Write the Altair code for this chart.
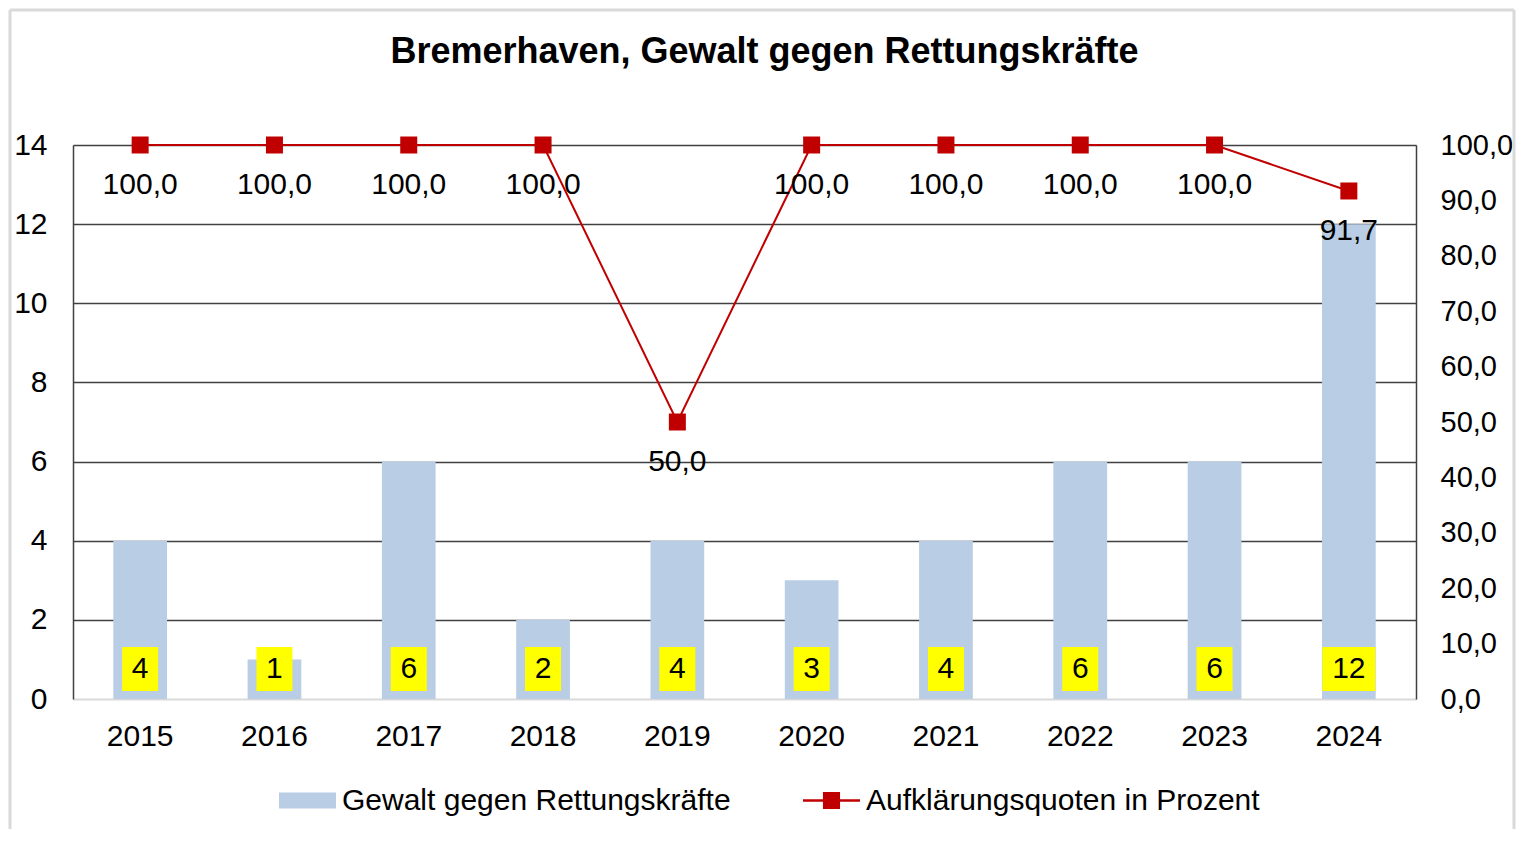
import altair as alt
import pandas as pd

years = ["2015", "2016", "2017", "2018", "2019", "2020", "2021", "2022", "2023", "2024"]
counts = [4, 1, 6, 2, 4, 3, 4, 6, 6, 12]
quotes = [100.0, 100.0, 100.0, 100.0, 50.0, 100.0, 100.0, 100.0, 100.0, 91.7]
left_ticks = [0, 2, 4, 6, 8, 10, 12, 14]
right_ticks = [0, 10, 20, 30, 40, 50, 60, 70, 80, 90, 100]
title_text = "Bremerhaven, Gewalt gegen Rettungskräfte"
bar_series = "Gewalt gegen Rettungskräfte"
line_series = "Aufklärungsquoten in Prozent"

df = pd.DataFrame({
    "year": years,
    "count": counts,
    "quote": quotes,
})
df["count_lbl"] = df["count"].astype(str)
df["quote_lbl"] = df["quote"].map(lambda v: f"{v:.1f}".replace(".", ","))
df["s_bar"] = bar_series
df["s_line"] = line_series

W, H = 1343, 554
FONT = "Liberation Sans"
RED = "#C00000"
BLUE = "#B9CDE5"
DARK = "#404040"
BORDER = "#D9D9D9"

bar_sym = "M-1,-0.28L1,-0.28L1,0.28L-1,0.28Z"
line_sym = "M-1,-0.04L1,-0.04L1,0.04L-1,0.04Z M-0.3,-0.3L0.3,-0.3L0.3,0.3L-0.3,0.3Z"

x_enc = alt.X(
    "year:O",
    title=None,
    scale=alt.Scale(paddingInner=0.6, paddingOuter=0.3),
    axis=alt.Axis(labelAngle=0, labelFontSize=30, labelFont=FONT, labelColor="black",
                  ticks=False, domainColor=BORDER, domainWidth=2, labelPadding=22, grid=False),
)

base = alt.Chart(df).encode(x=x_enc)

bars = base.mark_bar().encode(
    y=alt.Y("count:Q", title=None, scale=alt.Scale(domain=[0, 14], nice=False),
            axis=alt.Axis(values=left_ticks, labelFontSize=30, labelFont=FONT, labelColor="black",
                          ticks=False, domainColor=DARK, domainWidth=1.5, labelPadding=26,
                          grid=True, gridWidth=1.5,
                          gridColor=alt.condition("datum.value == 0", alt.value("transparent"), alt.value(DARK)))),
    color=alt.Color("s_bar:N",
                    scale=alt.Scale(domain=[bar_series], range=[BLUE]),
                    legend=alt.Legend(orient="none", legendX=206, legendY=627, title=None,
                                      symbolType=bar_sym, symbolSize=3249, symbolStrokeWidth=0,
                                      labelFontSize=30, labelFont=FONT, labelColor="black",
                                      labelOffset=6, labelLimit=0)),
)

boxes1 = base.mark_bar(color="#FFFF00", width=36).encode(
    y=alt.value(H - 8), y2=alt.value(H - 52)
).transform_filter("length(datum.count_lbl) == 1")
boxes2 = base.mark_bar(color="#FFFF00", width=53).encode(
    y=alt.value(H - 8), y2=alt.value(H - 52)
).transform_filter("length(datum.count_lbl) == 2")

box_text = base.mark_text(fontSize=30, font=FONT, color="black", baseline="middle").encode(
    y=alt.value(H - 30), text="count_lbl:N"
)

# outer frame: left, top and right edges (bottom lies outside the window)
one = alt.Chart(df).transform_filter("datum.year == '2015'")
frame_left = one.mark_rule(color=BORDER, strokeWidth=3).encode(
    x=alt.value(-63), y=alt.value(-135), y2=alt.value(H + 130))
frame_right = one.mark_rule(color=BORDER, strokeWidth=3).encode(
    x=alt.value(W + 98), y=alt.value(-135), y2=alt.value(H + 130))
frame_top = one.mark_rule(color=BORDER, strokeWidth=3).encode(
    x=alt.value(-63), x2=alt.value(W + 98), y=alt.value(-135))

y_right = alt.Y("quote:Q", title=None, scale=alt.Scale(domain=[0, 100], nice=False),
                axis=alt.Axis(orient="right", values=right_ticks, labelFontSize=29, labelFont=FONT,
                              labelColor="black", ticks=False, domainColor=DARK, domainWidth=1.5,
                              labelPadding=24, grid=False,
                              labelExpr="replace(format(datum.value, '.1f'), '.', ',')"))

line = base.mark_line(color=RED, strokeWidth=2).encode(y=y_right)
points = base.mark_point(shape="square", filled=True, size=289, opacity=1).encode(
    y=y_right,
    color=alt.Color("s_line:N",
                    scale=alt.Scale(domain=[line_series], range=[RED]),
                    legend=alt.Legend(orient="none", legendX=730, legendY=627, title=None,
                                      symbolType=line_sym, symbolSize=3249, symbolStrokeWidth=0,
                                      symbolFillColor=RED,
                                      labelFontSize=30, labelFont=FONT, labelColor="black",
                                      labelOffset=6, labelLimit=0)),
)
line_text = base.mark_text(fontSize=30, font=FONT, color="black", baseline="middle", dy=40).encode(
    y=y_right, text="quote_lbl:N"
)

left = alt.layer(frame_left, frame_right, frame_top, bars, boxes1, boxes2, box_text)
right = alt.layer(line, points, line_text)

chart = alt.layer(left, right).resolve_scale(y="independent", color="independent").properties(
    width=W, height=H,
    title=alt.TitleParams(title_text, fontSize=36, fontWeight="bold", font=FONT, color="black",
                          anchor="middle", offset=-62, dx=20),
    padding={"left": 0, "top": 0, "right": 0, "bottom": 0},
).configure_view(stroke=None).configure(background="white")

chart.save("out.html", embed_options={"renderer": "svg", "actions": False})
